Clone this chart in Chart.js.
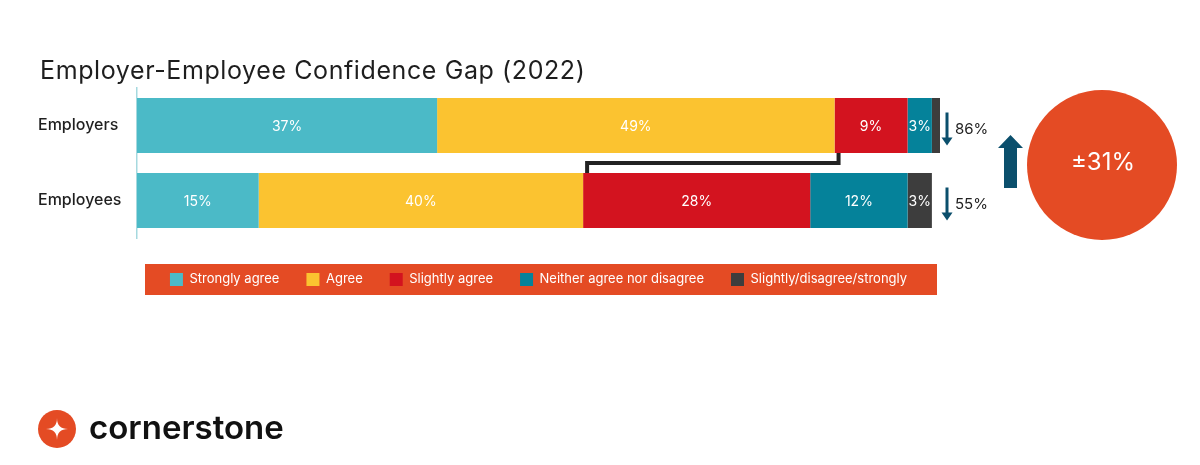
<!DOCTYPE html>
<html>
<head>
<meta charset="utf-8">
<script src="https://cdn.jsdelivr.net/npm/chart.js@4.4.1/dist/chart.umd.min.js"></script>
<style>
html, body { margin: 0; padding: 0; background: #fff; }
canvas { display: block; }
</style>
</head>
<body>
<canvas id="gap-chart" width="1200" height="465"></canvas>
<script>
// data
const groups = ["Employers", "Employees"];
const answers = ["Strongly agree", "Agree", "Slightly agree", "Neither agree nor disagree", "Slightly/disagree/strongly"];
const stronglyAgree = [37, 15];
const agree = [49, 40];
const slightlyAgree = [9, 28];
const neither = [3, 12];
const disagree = [1, 3];
const agreeTotals = ["86%", "55%"];
const gapLabel = "±31%";

const colours = ["#4bbac7", "#fbc330", "#d3131f", "#05829a", "#3d3d3d"];
const series = [stronglyAgree, agree, slightlyAgree, neither, disagree];
const FONT = "Inter, 'Open Sans', sans-serif";
const ORANGE = "#e44b24";
const NAVY = "#0b4f6c";

function downArrow(ctx, x, top, bottom) {
    ctx.strokeStyle = NAVY;
    ctx.fillStyle = NAVY;
    ctx.lineWidth = 3;
    ctx.beginPath();
    ctx.moveTo(x, top);
    ctx.lineTo(x, bottom - 7);
    ctx.stroke();
    ctx.beginPath();
    ctx.moveTo(x - 5.5, bottom - 8);
    ctx.lineTo(x + 5.5, bottom - 8);
    ctx.lineTo(x, bottom);
    ctx.closePath();
    ctx.fill();
}

const decorations = {
    id: 'decorations',
    afterLayout(chart) {
        // push the legend row down into the orange band
        chart.legend.top += 8;
        chart.legend.bottom += 8;
    },
    beforeDraw(chart) {
        const ctx = chart.ctx;
        const lg = chart.legend;
        ctx.save();
        ctx.fillStyle = ORANGE;
        ctx.fillRect(chart.chartArea.left + 8, lg.top + 18, chart.chartArea.width - 11, 31);
        ctx.restore();
    },
    afterDatasetsDraw(chart) {
        const ctx = chart.ctx;
        const area = chart.chartArea;
        ctx.save();

        // values inside the segments
        ctx.font = "400 14px " + FONT;
        ctx.fillStyle = "#ffffff";
        ctx.textAlign = "center";
        ctx.textBaseline = "middle";
        chart.data.datasets.forEach((ds, i) => {
            chart.getDatasetMeta(i).data.forEach((bar, j) => {
                if (ds.data[j] < 2) return;
                ctx.fillText(ds.data[j] + "%", (bar.x + bar.base) / 2, bar.y + 1);
            });
        });

        // bracket between the two "slightly agree" segments
        const top = chart.getDatasetMeta(2).data[0];
        const low = chart.getDatasetMeta(2).data[1];
        const midY = (top.y + top.height / 2 + low.y - low.height / 2) / 2;
        ctx.strokeStyle = "#222222";
        ctx.lineWidth = 4;
        ctx.beginPath();
        ctx.moveTo(top.base + 4, top.y + top.height / 2);
        ctx.lineTo(top.base + 4, midY);
        ctx.lineTo(low.base + 4, midY);
        ctx.lineTo(low.base + 4, low.y - low.height / 2);
        ctx.stroke();

        // totals with down arrows
        const first = chart.getDatasetMeta(0).data;
        ctx.font = "400 15px " + FONT;
        ctx.textAlign = "left";
        first.forEach((bar, j) => {
            downArrow(ctx, area.right + 7, bar.y - 13, bar.y + 20);
            ctx.fillStyle = "#222222";
            ctx.fillText(agreeTotals[j], area.right + 15, bar.y + 4);
        });

        // up arrow
        ctx.fillStyle = NAVY;
        ctx.beginPath();
        ctx.moveTo(1010.5, 135);
        ctx.lineTo(1023, 148);
        ctx.lineTo(1017, 148);
        ctx.lineTo(1017, 188);
        ctx.lineTo(1004, 188);
        ctx.lineTo(1004, 148);
        ctx.lineTo(998, 148);
        ctx.closePath();
        ctx.fill();

        // gap circle
        ctx.fillStyle = ORANGE;
        ctx.beginPath();
        ctx.arc(1102, 165, 75, 0, Math.PI * 2);
        ctx.fill();
        ctx.fillStyle = "#ffffff";
        ctx.font = "400 24px " + FONT;
        ctx.textAlign = "center";
        ctx.fillText(gapLabel, 1103, 163);

        // title
        ctx.fillStyle = "#1e1e1e";
        ctx.textAlign = "left";
        ctx.textBaseline = "alphabetic";
        ctx.font = "400 25px " + FONT;
        ctx.letterSpacing = "0.6px";
        ctx.fillText("Employer-Employee Confidence Gap (2022)", 40, 79);
        ctx.letterSpacing = "0px";

        // logo
        ctx.fillStyle = ORANGE;
        ctx.beginPath();
        ctx.arc(57, 429, 19, 0, Math.PI * 2);
        ctx.fill();
        ctx.fillStyle = "#ffffff";
        ctx.beginPath();
        const cx = 57, cy = 429, r = 11;
        ctx.moveTo(cx, cy - r);
        ctx.quadraticCurveTo(cx, cy, cx + r, cy);
        ctx.quadraticCurveTo(cx, cy, cx, cy + r);
        ctx.quadraticCurveTo(cx, cy, cx - r, cy);
        ctx.quadraticCurveTo(cx, cy, cx, cy - r);
        ctx.fill();
        ctx.fillStyle = "#111111";
        ctx.font = "600 33px " + FONT;
        ctx.fillText("cornerstone", 89, 439);

        ctx.restore();
    }
};

new Chart(document.getElementById("gap-chart"), {
    type: 'bar',
    data: {
        labels: groups,
        datasets: series.map((vals, i) => ({
            label: answers[i],
            data: vals,
            backgroundColor: colours[i],
            borderWidth: 0,
            barPercentage: 1,
            categoryPercentage: 0.733
        }))
    },
    options: {
        indexAxis: 'y',
        responsive: false,
        animation: false,
        devicePixelRatio: 1,
        layout: {padding: {top: 88, left: 38, right: 260, bottom: 177}},
        scales: {
            x: {stacked: true, min: 0, max: 99, display: false},
            y: {
                stacked: true,
                grid: {display: false},
                border: {display: true, color: '#a6d9df', width: 1.5},
                afterFit: (scale) => { scale.width = 99; },
                ticks: {
                    crossAlign: 'far',
                    color: '#1f1f1f',
                    font: {family: FONT, size: 16, weight: '500'}
                }
            }
        },
        plugins: {
            legend: {
                position: 'bottom',
                fullSize: false,
                labels: {
                    boxWidth: 13,
                    boxHeight: 13,
                    padding: 27,
                    color: '#ffffff',
                    font: {family: FONT, size: 13}
                }
            },
            tooltip: {enabled: false}
        }
    },
    plugins: [decorations]
});
</script>
</body>
</html>
